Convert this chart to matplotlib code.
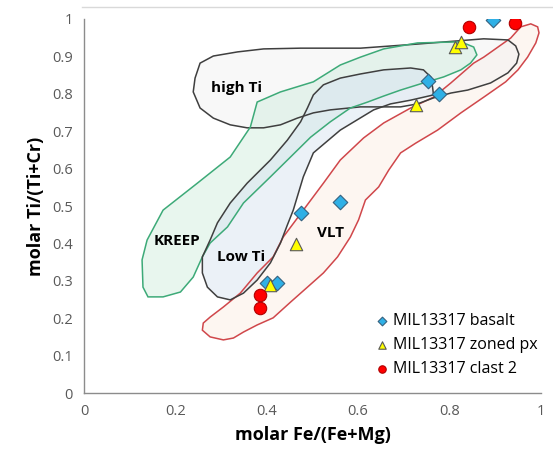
import matplotlib.pyplot as plt
from matplotlib.patches import Polygon
from matplotlib.lines import Line2D

# Field outlines (molar Fe/(Fe+Mg), molar Ti/(Ti+Cr))
high_ti_x = [0.254, 0.283, 0.336, 0.393, 0.474, 0.605, 0.730, 0.875, 0.928, 0.945, 0.952, 0.947,
             0.928, 0.890, 0.840, 0.803, 0.765, 0.730, 0.693, 0.605, 0.539, 0.502, 0.467, 0.430,
             0.393, 0.357, 0.320, 0.283, 0.254, 0.239, 0.243]
high_ti_y = [0.882, 0.901, 0.912, 0.920, 0.922, 0.922, 0.933, 0.947, 0.944, 0.928, 0.906, 0.882,
             0.856, 0.829, 0.810, 0.802, 0.789, 0.773, 0.765, 0.765, 0.757, 0.749, 0.735, 0.717,
             0.709, 0.709, 0.717, 0.735, 0.762, 0.805, 0.842]

kreep_x = [0.129, 0.127, 0.138, 0.173, 0.248, 0.320, 0.364, 0.379, 0.430, 0.502, 0.561, 0.605,
           0.656, 0.730, 0.825, 0.853, 0.860, 0.846, 0.825, 0.787, 0.743, 0.693, 0.656, 0.621,
           0.583, 0.539, 0.496, 0.452, 0.408, 0.349, 0.314, 0.276, 0.259, 0.239, 0.211, 0.173, 0.140]
kreep_y = [0.283, 0.356, 0.409, 0.489, 0.561, 0.631, 0.711, 0.778, 0.805, 0.832, 0.877, 0.898,
           0.920, 0.936, 0.939, 0.925, 0.904, 0.882, 0.864, 0.845, 0.829, 0.810, 0.794, 0.778,
           0.762, 0.725, 0.684, 0.631, 0.578, 0.508, 0.444, 0.401, 0.364, 0.310, 0.270, 0.257, 0.257]

low_ti_x = [0.605, 0.656, 0.715, 0.743, 0.759, 0.763, 0.765, 0.715, 0.671, 0.634, 0.561, 0.502,
            0.480, 0.458, 0.445, 0.430, 0.408, 0.379, 0.349, 0.320, 0.292, 0.270, 0.259, 0.259,
            0.276, 0.292, 0.320, 0.357, 0.408, 0.445, 0.474, 0.489, 0.502, 0.524, 0.561]
low_ti_y = [0.853, 0.864, 0.869, 0.864, 0.845, 0.818, 0.797, 0.783, 0.773, 0.757, 0.703, 0.642,
            0.578, 0.489, 0.449, 0.401, 0.348, 0.302, 0.267, 0.249, 0.257, 0.283, 0.321, 0.364,
            0.409, 0.455, 0.508, 0.561, 0.623, 0.676, 0.725, 0.762, 0.797, 0.824, 0.842]

vlt_x = [0.956, 0.978, 0.993, 0.996, 0.989, 0.971, 0.950, 0.923, 0.875, 0.825, 0.774, 0.726,
         0.693, 0.667, 0.645, 0.616, 0.601, 0.583, 0.555, 0.524, 0.489, 0.452, 0.414, 0.379,
         0.349, 0.327, 0.305, 0.276, 0.259, 0.261, 0.276, 0.305, 0.342, 0.379, 0.414, 0.436,
         0.480, 0.524, 0.561, 0.612, 0.656, 0.715, 0.765, 0.803, 0.853, 0.875, 0.934]
vlt_y = [0.979, 0.987, 0.979, 0.963, 0.936, 0.898, 0.864, 0.832, 0.791, 0.749, 0.703, 0.668,
         0.642, 0.596, 0.551, 0.516, 0.463, 0.417, 0.364, 0.321, 0.283, 0.243, 0.201, 0.182,
         0.163, 0.147, 0.142, 0.150, 0.168, 0.187, 0.203, 0.230, 0.267, 0.321, 0.364, 0.417,
         0.489, 0.561, 0.623, 0.682, 0.722, 0.762, 0.791, 0.829, 0.882, 0.898, 0.949]

# Sample data
basalt_x = [0.895, 0.752, 0.778, 0.474, 0.561, 0.401, 0.423]
basalt_y = [0.997, 0.834, 0.799, 0.481, 0.511, 0.294, 0.294]

zoned_x = [0.811, 0.826, 0.726, 0.463, 0.408]
zoned_y = [0.925, 0.939, 0.770, 0.398, 0.289]

clast_x = [0.842, 0.943, 0.386, 0.386]
clast_y = [0.979, 0.989, 0.262, 0.227]

plt.rcParams['font.family'] = ['Open Sans', 'DejaVu Sans']

fig = plt.figure(figsize=(5.53, 4.49), dpi=100)
ax = fig.add_axes([0.152, 0.1247, 0.826, 0.833])

fields = [
    (vlt_x, vlt_y, '#fcefe4', '#d0474b'),
    (high_ti_x, high_ti_y, '#f2f2f2', '#3f3f3f'),
    (kreep_x, kreep_y, '#d2eedf', '#3daa78'),
    (low_ti_x, low_ti_y, '#d8e4f1', '#3f3f3f'),
]
for fx, fy, fc, ec in fields:
    ax.add_patch(Polygon(list(zip(fx, fy)), closed=True, facecolor=fc, edgecolor='none',
                         alpha=0.5, zorder=1))
for fx, fy, fc, ec in fields:
    ax.add_patch(Polygon(list(zip(fx, fy)), closed=True, facecolor='none', edgecolor=ec,
                         lw=1.1, zorder=2))

ax.text(0.333, 0.816, 'high Ti', ha='center', va='center', fontsize=11, fontweight='bold', zorder=3)
ax.text(0.204, 0.406, 'KREEP', ha='center', va='center', fontsize=11, fontweight='bold', zorder=3)
ax.text(0.344, 0.364, 'Low Ti', ha='center', va='center', fontsize=11, fontweight='bold', zorder=3)
ax.text(0.539, 0.428, 'VLT', ha='center', va='center', fontsize=11, fontweight='bold', zorder=3)

ax.scatter(basalt_x, basalt_y, marker='D', s=55, c='#2fb0e6', edgecolors='#35617f',
           linewidths=0.8, zorder=4, label='MIL13317 basalt')
ax.scatter(zoned_x, zoned_y, marker='^', s=80, c='#ffff00', edgecolors='#595959',
           linewidths=0.8, zorder=5, label='MIL13317 zoned px')
ax.scatter(clast_x, clast_y, marker='o', s=80, c='#ff0000', edgecolors='#b00000',
           linewidths=0.8, zorder=6, label='MIL13317 clast 2')

ax.set_xlim(0, 1)
ax.set_ylim(0, 1)
ax.set_xticks([0, 0.2, 0.4, 0.6, 0.8, 1])
ax.set_xticklabels(['0', '0.2', '0.4', '0.6', '0.8', '1'])
ax.set_yticks([i / 10 for i in range(11)])
ax.set_yticklabels(['0'] + ['0.%d' % i for i in range(1, 10)] + ['1'])
ax.tick_params(length=0, labelsize=10.5, labelcolor='#595959', pad=8)
for side in ['top', 'right']:
    ax.spines[side].set_visible(False)
for side in ['left', 'bottom']:
    ax.spines[side].set_color('#8c8c8c')
    ax.spines[side].set_linewidth(1.0)

ax.set_xlabel('molar Fe/(Fe+Mg)', fontsize=13, fontweight='bold', labelpad=5)
ax.set_ylabel('molar Ti/(Ti+Cr)', fontsize=13, fontweight='bold', labelpad=5)

leg = ax.legend(loc='lower left', bbox_to_anchor=(0.638, 0.043), frameon=False, fontsize=11.5,
                handlelength=0.8, handletextpad=0.3, labelspacing=0.5, markerscale=0.6,
                borderaxespad=0, borderpad=0)

fig.add_artist(Line2D([82 / 553, 1], [1 - 7 / 449, 1 - 7 / 449], color='#d9d9d9', lw=1))

fig.savefig('out.png', dpi=100)
